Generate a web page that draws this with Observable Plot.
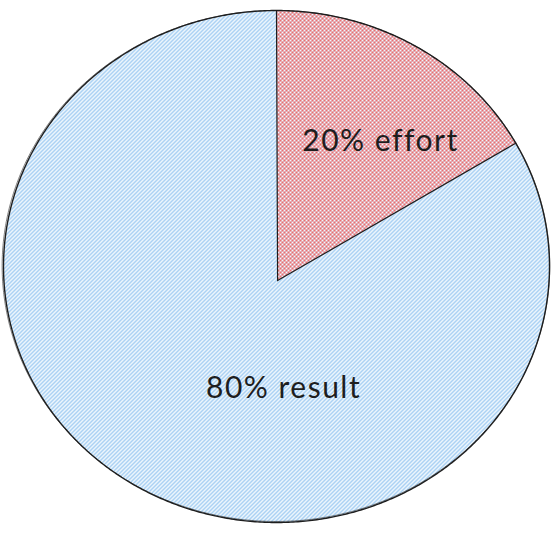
<!DOCTYPE html>
<html><head><meta charset="utf-8">
<script src="https://cdn.jsdelivr.net/npm/d3@7"></script>
<script src="https://cdn.jsdelivr.net/npm/@observablehq/plot@0.6"></script>
<style>body{margin:0;background:#fff}</style>
</head><body><div id="chart"></div>
<script>
// Data
const categories = ["effort", "result"];
const values = [17, 83];              // slice sizes as drawn
const labels = ["20% effort", "80% result"];

// Layout constants (not data)
const hub = {x: 0.004, y: -0.055};   // wedge vertex, in ellipse units
const labelAt = {effort: [0.381, 0.488], result: [0.026, -0.477]};
const patternFor = {effort: "url(#hatchRed)", result: "url(#hatchBlue)"};

const rows = categories.map((c, i) => ({name: c, value: values[i], label: labels[i]}));
const arcs = d3.pie().sort(null).value(d => d.value)(rows);

const slices = arcs.flatMap(p => {
  const pts = [{x: hub.x, y: hub.y}];
  const n = Math.ceil((p.endAngle - p.startAngle) * 80);
  for (let k = 0; k <= n; k++) {
    const t = p.startAngle + (p.endAngle - p.startAngle) * k / n;
    pts.push({x: Math.sin(t), y: Math.cos(t)});
  }
  pts.push({x: hub.x, y: hub.y});
  return pts.map(q => ({...q, name: p.data.name}));
});

const outline = d3.range(0, 721).map(k => {
  const t = k / 720 * 2 * Math.PI;
  return {x: Math.sin(t), y: Math.cos(t)};
});
const outline2 = d3.range(0, 721).map(k => {
  const t = k / 720 * 2 * Math.PI + 0.01;
  return {x: 1.003 * Math.sin(t) - 0.002, y: 0.998 * Math.cos(t) + 0.002};
});

const spokes = arcs.flatMap(p => [
  {x: hub.x, y: hub.y, id: p.data.name},
  {x: Math.sin(p.startAngle), y: Math.cos(p.startAngle), id: p.data.name}
]);

const chart = Plot.plot({
  width: 554,
  height: 533,
  margin: 0,
  x: {domain: [-1, 1], range: [3, 549], axis: null},
  y: {domain: [-1, 1], range: [522, 10], axis: null},
  marks: [
    Plot.line(slices, {x: "x", y: "y", z: "name", fill: "url(#hatchBlue)", stroke: "none"}),
    Plot.line(slices.filter(d => d.name === "effort"), {x: "x", y: "y", z: "name", fill: patternFor.effort, stroke: "none"}),
    Plot.line(outline2, {x: "x", y: "y", stroke: "#1e1e1e", strokeWidth: 0.8, strokeOpacity: 0.7}),
    Plot.line(outline, {x: "x", y: "y", stroke: "#1e1e1e", strokeWidth: 1.4}),
    Plot.line(spokes, {x: "x", y: "y", z: "id", stroke: "#1e1e1e", strokeWidth: 1.2}),
    Plot.text(rows, {
      x: d => labelAt[d.name][0],
      y: d => labelAt[d.name][1],
      text: "label",
      fontSize: 30,
      fill: "#1e1e1e",
      fontFamily: "Comic Sans MS, Lato, sans-serif"
    })
  ]
});

d3.select(chart).insert("defs", ":first-child").html(`
  <pattern id="hatchBlue" patternUnits="userSpaceOnUse" width="4" height="4">
    <path d="M-1,1 L1,-1 M0,4 L4,0 M3,5 L5,3" stroke="#78b6ee" stroke-width="1.1" fill="none"/>
  </pattern>
  <pattern id="hatchRed" patternUnits="userSpaceOnUse" width="4" height="4">
    <rect width="4" height="4" fill="#fff" fill-opacity="0.3"/>
    <path d="M-1,1 L1,-1 M0,4 L4,0 M3,5 L5,3" stroke="#ee6c6c" stroke-width="1" fill="none"/>
    <path d="M-1,3 L1,5 M0,0 L4,4 M3,-1 L5,1" stroke="#ee6c6c" stroke-width="1" fill="none"/>
  </pattern>
`);
chart.querySelectorAll("text").forEach(t => t.setAttribute("letter-spacing", "1.5"));
document.getElementById("chart").appendChild(chart);
</script>
</body></html>
